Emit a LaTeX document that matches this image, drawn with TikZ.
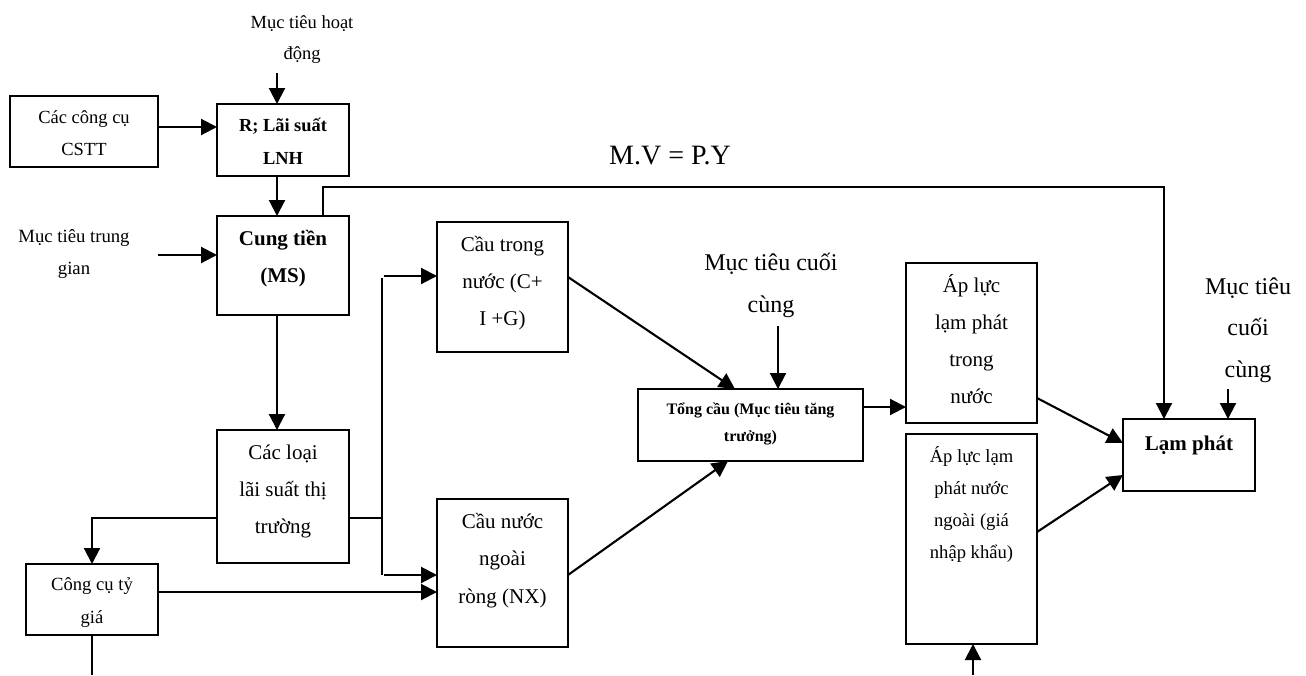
\documentclass[tikz,border=0pt]{standalone}
\usepackage{fontspec}
\setmainfont{Liberation Serif}
\usetikzlibrary{arrows.meta}

% box contents: width, height, top padding, lines
\newcommand\boxlines[4]{\parbox[c][#2pt][t]{#1pt}{\centering\vspace*{#3pt}\strut #4\par}}
% free label: lines centred, baseline on the first line
\newcommand\freelines[1]{\parbox[t]{220pt}{\centering\strut #1\par}}

\tikzset{
  stagebox/.style={draw, line width=1.9pt, inner sep=0pt, outer sep=0pt, fill=white},
  tag/.style={inner sep=0pt, outer sep=0pt, anchor=base},
  flow/.style={line width=2.1pt, -{Triangle[length=16pt,width=16pt]}},
  wire/.style={line width=2.1pt},
}

\begin{document}
\begin{tikzpicture}[x=1pt,y=-1pt]
\useasboundingbox (0,0) rectangle (1306,675);
\fill[white] (0,0) rectangle (1306,675);

% ---- boxes ----
\node[stagebox, font=\fontsize{18.5}{32}\selectfont] (cstt) at (84,131.5)
  {\boxlines{148}{71}{5.1}{Các công cụ\\CSTT}};
\node[stagebox, font=\fontsize{18.4}{33}\selectfont\bfseries] (rate) at (283,140)
  {\boxlines{132}{72}{4.4}{R; Lãi suất\\LNH}};
\node[stagebox, font=\fontsize{21}{37}\selectfont\bfseries] (ms) at (283,265.5)
  {\boxlines{132}{99}{3.4}{Cung tiền\\(MS)}};
\node[stagebox, font=\fontsize{21}{37}\selectfont] (mrates) at (283,496.5)
  {\boxlines{132}{133}{3.4}{Các loại\\lãi suất thị\\trường}};
\node[stagebox, font=\fontsize{18.6}{33}\selectfont] (fx) at (92,599.5)
  {\boxlines{132}{71}{3.5}{Công cụ tỷ\\giá}};
\node[stagebox, font=\fontsize{21}{37}\selectfont] (dd) at (502.5,287)
  {\boxlines{131}{130}{3.4}{Cầu trong\\nước (C+\\I +G)}};
\node[stagebox, font=\fontsize{16}{27}\selectfont\bfseries] (ad) at (750.5,425)
  {\boxlines{225}{72}{6.9}{Tổng cầu (Mục tiêu tăng\\trưởng)}};
\node[stagebox, font=\fontsize{21}{37.5}\selectfont] (nx) at (502.5,573)
  {\boxlines{131}{148}{3.1}{Cầu nước\\ngoài\\ròng (NX)}};
\node[stagebox, font=\fontsize{21}{37}\selectfont] (pin) at (971.5,343)
  {\boxlines{131}{160}{3.4}{Áp lực\\lạm phát\\trong\\nước}};
\node[stagebox, font=\fontsize{18.6}{32}\selectfont] (pout) at (971.5,539)
  {\boxlines{131}{210}{6.2}{Áp lực lạm\\phát nước\\ngoài (giá\\nhập khẩu)}};
\node[stagebox, font=\fontsize{21}{37}\selectfont\bfseries] (inf) at (1189,455)
  {\boxlines{132}{72}{5.4}{Lạm phát}};

% ---- free labels ----
\node[tag, font=\fontsize{18.5}{31}\selectfont] (optgt) at (302,28)
  {\freelines{Mục tiêu hoạt\\động}};
\node[tag, font=\fontsize{18.7}{32}\selectfont] (midtgt) at (74,242.6)
  {\freelines{Mục tiêu trung\\gian}};
\node[tag, font=\fontsize{24}{42}\selectfont] (fintgtA) at (771,270)
  {\freelines{Mục tiêu cuối\\cùng}};
\node[tag, font=\fontsize{24}{41.5}\selectfont] (fintgtB) at (1248,294)
  {\freelines{Mục tiêu\\cuối\\cùng}};
\node[tag, font=\fontsize{28}{34}\selectfont] (qty) at (670,164) {M.V = P.Y};

% ---- free ends and junctions ----
\coordinate (optend) at (277,73);
\coordinate (midend) at (158,255);
\coordinate (finAend) at (778,326);
\coordinate (finBend) at (1228,389);
\coordinate (fxtail) at (92,675);
\coordinate (importend) at (973,675);
\coordinate (splitA) at (382,518);
\coordinate (splitTop) at (382,278);
\coordinate (splitBot) at (382,575);

% ---- connectors ----
\draw[flow] (optend) -- (rate.north -| optend);
\draw[flow] (cstt.east |- 0,127) -- (rate.west |- 0,127);
\draw[flow] (rate.south -| 277,0) -- (ms.north -| 277,0);
\draw[flow] (midend) -- (ms.west |- midend);
\draw[flow] (ms.north -| 323,0) -- (323,187) -- (1164,187) -- (inf.north -| 1164,0);
\draw[flow] (ms.south -| 277,0) -- (mrates.north -| 277,0);
\draw[flow] (mrates.west |- 0,518) -| (fx.north);
\draw[wire] (mrates.east |- splitA) -- (splitA);
\draw[wire] (splitTop) -- (splitBot);
\draw[flow] (384,276) -- (dd.west |- 0,276);
\draw[flow] (384,575) -- (nx.west |- 0,575);
\draw[flow] (fx.east |- 0,592) -- (nx.west |- 0,592);
\draw[wire] (fx.south) -- (fxtail);
\draw[flow] (dd.east |- 0,277) -- (ad.north -| 735,0);
\draw[flow] (finAend) -- (ad.north -| finAend);
\draw[flow] (nx.east |- 0,575) -- (ad.south -| 728,0);
\draw[flow] (ad.east |- 0,407) -- (pin.west |- 0,407);
\draw[flow] (pin.east |- 0,398) -- (inf.west |- 0,443);
\draw[flow] (pout.east |- 0,532) -- (inf.west |- 0,475);
\draw[flow] (finBend) -- (inf.north -| finBend);
\draw[flow] (importend) -- (pout.south -| importend);
\end{tikzpicture}
\end{document}
